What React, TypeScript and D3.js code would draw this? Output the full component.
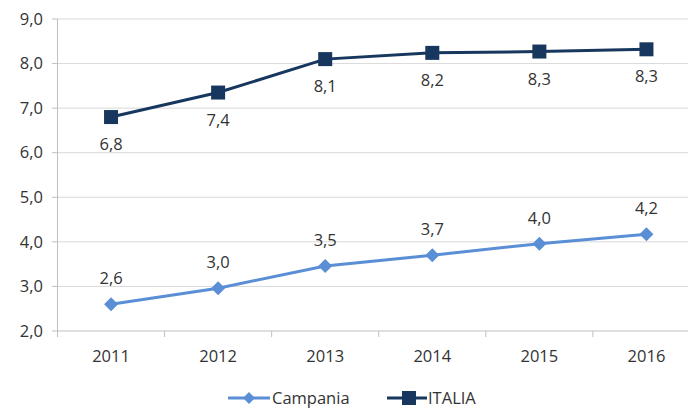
import React from "react";
import * as d3 from "d3";

const years = ["2011", "2012", "2013", "2014", "2015", "2016"];
const campania = [2.6, 2.96, 3.46, 3.7, 3.96, 4.17];
const campaniaLabels = ["2,6", "3,0", "3,5", "3,7", "4,0", "4,2"];
const italia = [6.8, 7.35, 8.1, 8.24, 8.27, 8.32];
const italiaLabels = ["6,8", "7,4", "8,1", "8,2", "8,3", "8,3"];
const yTicks = [2, 3, 4, 5, 6, 7, 8, 9];

const W = 688, H = 408;
const FONT = "'Open Sans', 'Noto Sans', sans-serif";
const C_CAMP = "#5A8FD6";
const C_ITA = "#17375E";
const TXT = "#333333";
const FS = 16.5;

export default function App() {
  const x = d3.scaleBand().domain(years).range([57.5, 700]);
  const y = d3.scaleLinear().domain([2, 9]).range([331, 19]);
  const cx = (d: string) => (x(d) as number) + x.bandwidth() / 2;
  const line = d3.line<number>().x((_, i) => cx(years[i])).y((v) => y(v));
  const fmt = (v: number) => d3.format(".1f")(v).replace(".", ",");
  const sq = 14, dm = 7;
  return (
    <svg width={W} height={H} style={{ position: "absolute", left: 0, top: 0, background: "#fff" }} fontFamily={FONT}>
      {yTicks.map((t) => (
        <g key={t}>
          <line x1={57.5} x2={W} y1={y(t)} y2={y(t)} stroke={t === 2 ? "#BFBFBF" : "#D9D9D9"} strokeWidth={1} />
          <line x1={52} x2={57.5} y1={y(t)} y2={y(t)} stroke="#BFBFBF" />
          <text x={43} y={y(t)} dy="0.35em" textAnchor="end" fontSize={FS} fill={TXT}>{fmt(t)}</text>
        </g>
      ))}
      <line x1={57.5} x2={57.5} y1={y(9)} y2={y(2)} stroke="#BFBFBF" />
      {years.concat(["end"]).map((yr, i) => {
        const xx = 57.5 + i * x.bandwidth();
        return <line key={yr} x1={xx} x2={xx} y1={y(2)} y2={y(2) + 6} stroke="#BFBFBF" />;
      })}
      {years.map((yr) => (
        <text key={yr} x={cx(yr)} y={362} textAnchor="middle" fontSize={FS} fill={TXT}>{yr}</text>
      ))}
      <path d={line(italia) as string} fill="none" stroke={C_ITA} strokeWidth={3} />
      {italia.map((v, i) => (
        <g key={i}>
          <rect x={cx(years[i]) - sq / 2} y={y(v) - sq / 2} width={sq} height={sq} fill={C_ITA} />
          <text x={cx(years[i])} y={y(v) + 33} textAnchor="middle" fontSize={FS} fill={TXT}>{italiaLabels[i]}</text>
        </g>
      ))}
      <path d={line(campania) as string} fill="none" stroke={C_CAMP} strokeWidth={3} />
      {campania.map((v, i) => (
        <g key={i}>
          <path d={`M${cx(years[i])},${y(v) - dm}L${cx(years[i]) + dm},${y(v)}L${cx(years[i])},${y(v) + dm}L${cx(years[i]) - dm},${y(v)}Z`} fill={C_CAMP} />
          <text x={cx(years[i])} y={y(v) - 20} textAnchor="middle" fontSize={FS} fill={TXT}>{campaniaLabels[i]}</text>
        </g>
      ))}
      <g>
        <line x1={228} x2={270} y1={398} y2={398} stroke={C_CAMP} strokeWidth={3} />
        <path d={`M249,392L255,398L249,404L243,398Z`} fill={C_CAMP} />
        <text x={272} y={398} dy="0.35em" fontSize={FS} fill={TXT}>Campania</text>
        <line x1={387} x2={427} y1={398} y2={398} stroke={C_ITA} strokeWidth={3} />
        <rect x={402} y={391} width={14} height={14} fill={C_ITA} />
        <text x={428} y={398} dy="0.35em" fontSize={FS} fill={TXT}>ITALIA</text>
      </g>
    </svg>
  );
}
